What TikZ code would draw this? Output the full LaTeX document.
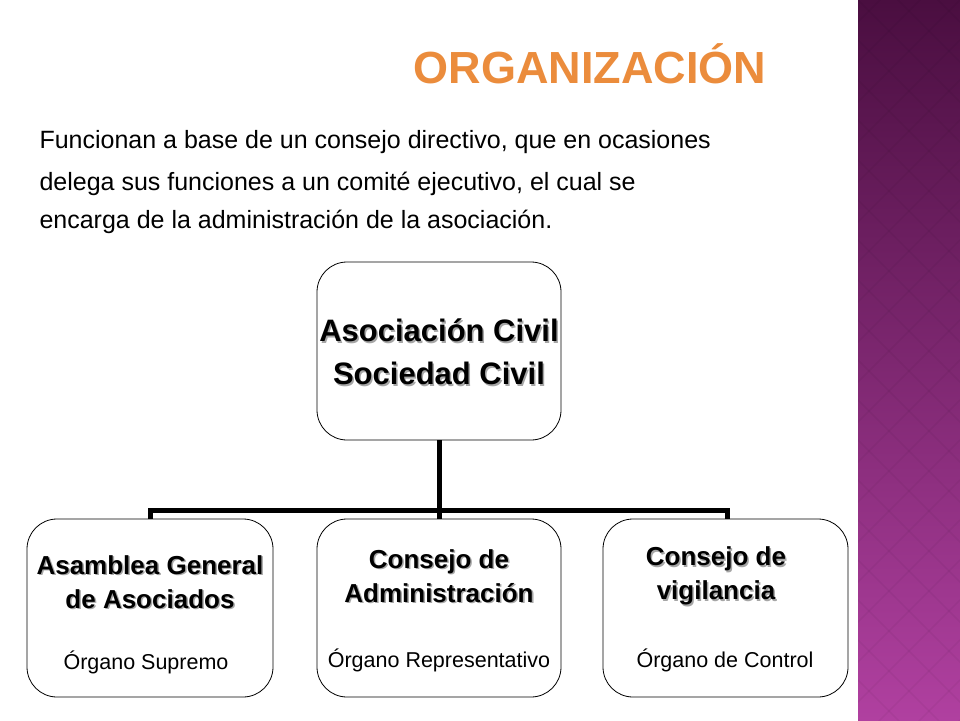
\documentclass[tikz,border=0pt]{standalone}
\usepackage{fontspec}
\setmainfont{Liberation Sans}
\begin{document}
\begin{tikzpicture}[x=1pt,y=-1pt,
  box/.style={draw=black,line width=0.8pt,rounded corners=30pt,fill=white},
  conn/.style={line width=5pt},
  head/.style={font=\bfseries\fontsize{26}{34}\selectfont,align=center},
  sub/.style={font=\fontsize{21.5}{24}\selectfont},
  para/.style={font=\fontsize{25}{28}\selectfont,anchor=west}]
\useasboundingbox (0,0) rectangle (960,720);
\fill[white] (0,0) rectangle (960,720);
% purple strip
\shade[top color={rgb,255:red,74;green,14;blue,64},bottom color={rgb,255:red,176;green,64;blue,160}] (858,0) rectangle (960,720);
\begin{scope}
\clip (858,0) rectangle (960,720);
\foreach \i in {-10,...,30}{
  \draw[black,opacity=0.04,line width=1.5pt] (858,\i*40) -- ++(120,120);
  \draw[black,opacity=0.04,line width=1.5pt] (960,\i*40) -- ++(-120,120);
}
\end{scope}
% title
\node[anchor=west,font=\bfseries\fontsize{45}{50}\selectfont,text={rgb,255:red,235;green,140;blue,60}] (title) at (410,64) {ORGANIZACIÓN};
% paragraph
\node[para] (p1) at (36,142) {Funcionan a base de un consejo directivo, que en ocasiones};
\node[para] (p2) at (36,184) {delega sus funciones a un comité ejecutivo, el cual se};
\node[para] (p3) at (36,222) {encarga de la administración de la asociación.};
% boxes
\node[box,minimum width=244pt,minimum height=178pt] (top) at (439,351) {};
\node[box,minimum width=246pt,minimum height=178pt] (b1) at (150,608) {};
\node[box,minimum width=244pt,minimum height=178pt] (b2) at (439,608) {};
\node[box,minimum width=245pt,minimum height=178pt] (b3) at (725.5,608) {};
% connectors
\coordinate (j) at (439,510);
\coordinate (l) at (150,510);
\coordinate (r) at (727,510);
\draw[conn] (top.south) -- (j);
\draw[conn,line cap=rect] (l) -- (r);
\draw[conn] (l) -- (l|-b1.north);
\draw[conn] (j) -- (j|-b2.north);
\draw[conn] (r) -- (r|-b3.north);
% texts
\node[font=\bfseries\fontsize{31}{43}\selectfont,align=center,text=black!35] at (440.5,353.5) {Asociación Civil\\Sociedad Civil};
\node[font=\bfseries\fontsize{31}{43}\selectfont,align=center] (tt) at (439,352) {Asociación Civil\\Sociedad Civil};
\node[head,text=black!35] at (151.5,583.5) {Asamblea General\\de Asociados};
\node[head] (h1) at (150,582) {Asamblea General\\de Asociados};
\node[sub] (s1) at (146,662) {Órgano Supremo};
\node[head,text=black!35] at (440.5,577.5) {Consejo de\\Administración};
\node[head] (h2) at (439,576) {Consejo de\\Administración};
\node[sub] (s2) at (439,660) {Órgano Representativo};
\node[head,text=black!35] at (717.5,577.5) {Consejo de\\vigilancia};
\node[head] (h3) at (716,576) {Consejo de\\vigilancia};
\node[sub] (s3) at (725,660) {Órgano de Control};
\end{tikzpicture}
\end{document}
